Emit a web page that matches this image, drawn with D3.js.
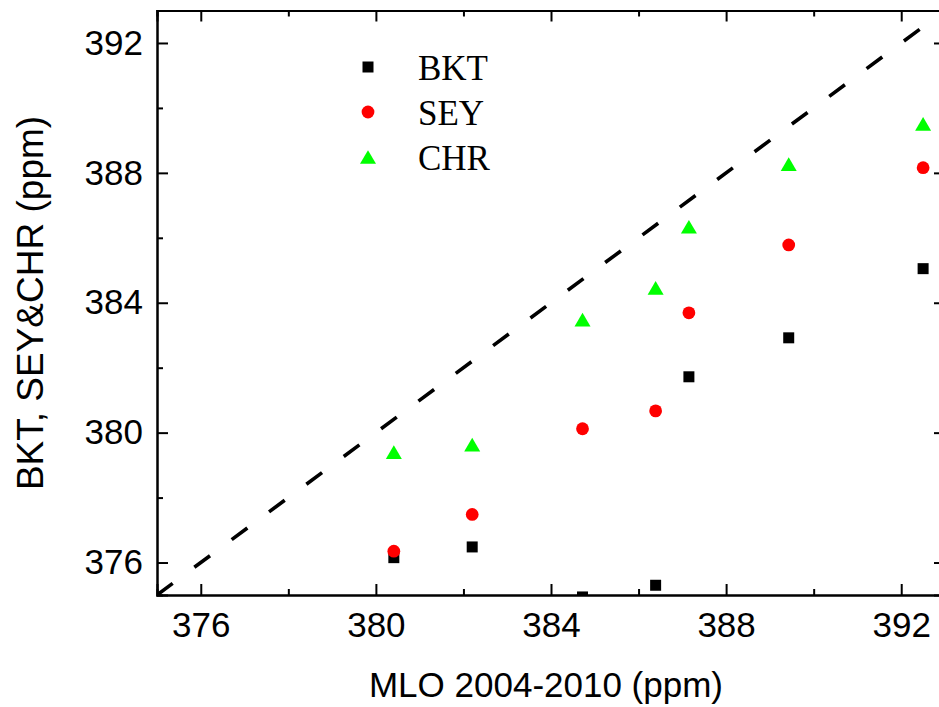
<!DOCTYPE html>
<html>
<head>
<meta charset="utf-8">
<script src="https://cdn.jsdelivr.net/npm/d3@7"></script>
<style>
  body { margin: 0; background: #fff; }
  svg { display: block; }
</style>
</head>
<body>
<div id="chart"></div>
<script>
// MLO annual means (x) and station values
const mlo = [380.41, 382.20, 384.72, 386.39, 387.15, 389.43, 392.50];
const bkt = [376.15, 376.48, 374.94, 375.30, 381.72, 382.92, 385.05];
const sey = [376.35, 377.48, 380.12, 380.67, 383.69, 385.78, 388.16];
const chr = [379.40, 379.63, 383.48, 384.46, 386.34, 388.27, 389.51];

const seriesNames = ['BKT', 'SEY', 'CHR'];
const majorTicks = [376, 380, 384, 388, 392];
const minorTicks = [378, 382, 386, 390];
const domain = [375, 393];

const width = 939, height = 707;
const plotLeft = 157, plotRight = 945, plotTop = 10.5, plotBottom = 595;

const svg = d3.select('#chart').append('svg')
    .attr('width', width)
    .attr('height', height);

const x = d3.scaleLinear().domain(domain).range([plotLeft, plotRight]);
const y = d3.scaleLinear().domain(domain).range([plotBottom, plotTop]);

svg.append('clipPath').attr('id', 'plot-clip')
  .append('rect')
    .attr('x', plotLeft).attr('y', plotTop)
    .attr('width', plotRight - plotLeft).attr('height', plotBottom - plotTop);

// triangle centred on its bounding box, like the original software draws it
const triangle = {
    draw(ctx) {
        const w = 16, h = 13.7;
        ctx.moveTo(0, -h / 2);
        ctx.lineTo(w / 2, h / 2);
        ctx.lineTo(-w / 2, h / 2);
        ctx.closePath();
    }
};

const styles = {
    BKT: { values: bkt, fill: '#000000', path: d3.symbol(d3.symbolSquare, 121)() },
    SEY: { values: sey, fill: '#ff0000', path: d3.symbol(d3.symbolCircle, 128)() },
    CHR: { values: chr, fill: '#00ff00', path: d3.symbol(triangle)() }
};

const plot = svg.append('g').attr('clip-path', 'url(#plot-clip)');

// 1:1 reference line
plot.append('line')
    .attr('x1', x(domain[0])).attr('y1', y(domain[0]))
    .attr('x2', x(domain[1])).attr('y2', y(domain[1]))
    .attr('stroke', '#000')
    .attr('stroke-width', 3.6)
    .attr('stroke-dasharray', '19.5,27');

seriesNames.forEach(name => {
    const s = styles[name];
    plot.append('g')
        .selectAll('path')
        .data(mlo.map((m, i) => [m, s.values[i]]))
        .enter().append('path')
        .attr('d', s.path)
        .attr('fill', s.fill)
        .attr('transform', d => `translate(${x(d[0])},${y(d[1])})`);
});

// axes: inward ticks on all four sides
function styleAxis(g) {
    g.selectAll('.domain').attr('stroke', '#000').attr('stroke-width', 2);
    g.selectAll('.tick line').attr('stroke', '#000').attr('stroke-width', 2);
    g.selectAll('text')
        .attr('font-family', 'Liberation Sans, Arial, sans-serif')
        .attr('font-size', 35)
        .attr('fill', '#000');
}

svg.append('g').attr('transform', `translate(0,${plotBottom})`)
    .call(d3.axisBottom(x).tickValues(majorTicks).tickSize(-11).tickPadding(17).tickFormat(d3.format('d')))
    .call(styleAxis);
svg.append('g').attr('transform', `translate(0,${plotBottom})`)
    .call(d3.axisBottom(x).tickValues(minorTicks).tickSize(-6).tickFormat(''))
    .call(styleAxis);

svg.append('g').attr('transform', `translate(${plotLeft},0)`)
    .call(d3.axisLeft(y).tickValues(majorTicks).tickSize(-11).tickPadding(14).tickFormat(d3.format('d')))
    .call(styleAxis);
svg.append('g').attr('transform', `translate(${plotLeft},0)`)
    .call(d3.axisLeft(y).tickValues(minorTicks).tickSize(-6).tickFormat(''))
    .call(styleAxis);

svg.append('g').attr('transform', `translate(0,${plotTop})`)
    .call(d3.axisTop(x).tickValues(majorTicks).tickSize(-11).tickFormat(''))
    .call(styleAxis);
svg.append('g').attr('transform', `translate(0,${plotTop})`)
    .call(d3.axisTop(x).tickValues(minorTicks).tickSize(-6).tickFormat(''))
    .call(styleAxis);

svg.append('g').attr('transform', `translate(${plotRight},0)`)
    .call(d3.axisRight(y).tickValues(majorTicks).tickSize(-11).tickFormat(''))
    .call(styleAxis);
svg.append('g').attr('transform', `translate(${plotRight},0)`)
    .call(d3.axisRight(y).tickValues(minorTicks).tickSize(-6).tickFormat(''))
    .call(styleAxis);

// axis titles
svg.append('text')
    .attr('x', 546)
    .attr('y', 697)
    .attr('text-anchor', 'middle')
    .attr('font-family', 'Liberation Sans, Arial, sans-serif')
    .attr('font-size', 35)
    .text('MLO 2004-2010 (ppm)');

svg.append('text')
    .attr('transform', 'translate(43,303) rotate(-90)')
    .attr('text-anchor', 'middle')
    .attr('font-family', 'Liberation Sans, Arial, sans-serif')
    .attr('font-size', 37)
    .text('BKT, SEY&CHR (ppm)');

// legend
const legend = svg.append('g').attr('transform', 'translate(368,67)');
const item = legend.selectAll('g')
    .data(seriesNames)
    .enter().append('g')
    .attr('transform', (d, i) => `translate(0,${i * 45})`);

item.append('path')
    .attr('d', d => styles[d].path)
    .attr('fill', d => styles[d].fill);

item.append('text')
    .attr('x', 50)
    .attr('y', 13)
    .attr('font-family', 'Liberation Serif, Times New Roman, serif')
    .attr('font-size', 35)
    .text(d => d);
</script>
</body>
</html>
